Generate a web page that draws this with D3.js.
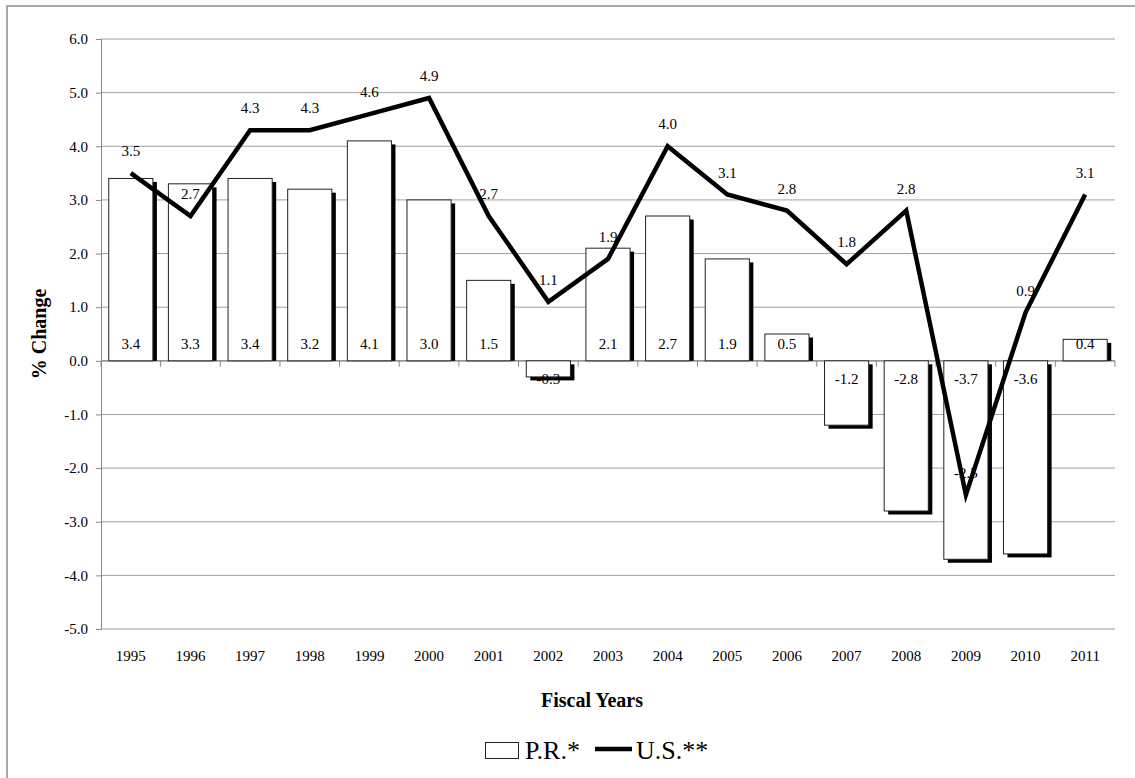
<!DOCTYPE html>
<html>

<head>
    <meta charset="utf-8">
    <title>% Change P.R. vs U.S.</title>
    <script src="https://d3js.org/d3.v7.min.js"></script>
    <style>
        body {
            margin: 0;
            background: #fff;
        }

        text {
            font-family: "Liberation Serif", "Times New Roman", serif;
            fill: #000;
        }
    </style>
</head>

<body>
    <div id="chart"></div>
    <script>
        // data
        const years = ["1995", "1996", "1997", "1998", "1999", "2000", "2001", "2002", "2003",
            "2004", "2005", "2006", "2007", "2008", "2009", "2010", "2011"]
        const prValues = [3.4, 3.3, 3.4, 3.2, 4.1, 3.0, 1.5, -0.3, 2.1, 2.7, 1.9, 0.5, -1.2, -2.8, -3.7, -3.6, 0.4]
        const usValues = [3.5, 2.7, 4.3, 4.3, 4.6, 4.9, 2.7, 1.1, 1.9, 4.0, 3.1, 2.8, 1.8, 2.8, -2.5, 0.9, 3.1]
        const yTicks = [6, 5, 4, 3, 2, 1, 0, -1, -2, -3, -4, -5]

        const w = 1135
        const h = 778
        const plot = { left: 101, right: 1115, top: 39, bottom: 629 }

        const rows = years.map((y, i) => ({ year: y, pr: prValues[i], us: usValues[i] }))

        const xScale = d3.scaleBand()
            .domain(years)
            .range([plot.left, plot.right])
            .paddingInner(0.26)
            .paddingOuter(0.13)

        const yScale = d3.scaleLinear()
            .domain([-5, 6])
            .range([plot.bottom, plot.top])

        // plain hyphen for negatives, like the original
        const fmt = (v) => d3.format(".1f")(v).replace("\u2212", "-")
        const cx = (d) => xScale(d.year) + xScale.bandwidth() / 2

        const svg = d3.select("#chart")
            .append("svg")
            .attr("width", w)
            .attr("height", h)

        // chart frame (runs off the right and bottom)
        svg.append("rect")
            .attr("x", 7)
            .attr("y", 6)
            .attr("width", w + 50)
            .attr("height", h + 50)
            .attr("fill", "none")
            .attr("stroke", "#8c8c8c")
            .attr("stroke-width", 1.5)

        // gridlines
        svg.append("g")
            .selectAll("line")
            .data(yTicks)
            .enter()
            .append("line")
            .attr("x1", plot.left)
            .attr("x2", plot.right)
            .attr("y1", (d) => yScale(d))
            .attr("y2", (d) => yScale(d))
            .attr("stroke", "#a0a0a0")
            .attr("stroke-width", 1)

        // y axis
        const yAxis = d3.axisLeft(yScale)
            .tickValues(yTicks)
            .tickFormat(fmt)
            .tickSize(5)
            .tickPadding(8)

        const gy = svg.append("g")
            .attr("transform", "translate(" + plot.left + ",0)")
            .call(yAxis)
        gy.select(".domain").attr("stroke", "#888")
        gy.selectAll(".tick line").attr("stroke", "#888")
        gy.selectAll(".tick text")
            .attr("font-size", 15)

        // x axis sits on the zero line, ticks between categories
        svg.append("line")
            .attr("x1", plot.left)
            .attr("x2", plot.right)
            .attr("y1", yScale(0))
            .attr("y2", yScale(0))
            .attr("stroke", "#888")
            .attr("stroke-width", 1.3)

        const step = xScale.step()
        const xEdge = d3.range(years.length + 1).map((i) => plot.left + i * step)
        svg.append("g")
            .selectAll("line")
            .data(xEdge)
            .enter()
            .append("line")
            .attr("x1", (d) => d)
            .attr("x2", (d) => d)
            .attr("y1", yScale(0))
            .attr("y2", yScale(0) + 6)
            .attr("stroke", "#888")

        svg.append("g")
            .selectAll("text")
            .data(years)
            .enter()
            .append("text")
            .attr("x", (d) => xScale(d) + xScale.bandwidth() / 2)
            .attr("y", 661)
            .attr("text-anchor", "middle")
            .attr("font-size", 15)
            .text((d) => d)

        // bar shadows then bars
        const barY = (d) => yScale(Math.max(0, d.pr))
        const barH = (d) => Math.abs(yScale(d.pr) - yScale(0))

        // shadow of a positive bar stops at the zero line
        svg.append("g")
            .selectAll("rect")
            .data(rows)
            .enter()
            .append("rect")
            .attr("x", (d) => xScale(d.year) + 4)
            .attr("y", (d) => barY(d) + 3.5)
            .attr("width", xScale.bandwidth())
            .attr("height", (d) => d.pr >= 0 ? Math.max(0, barH(d) - 3.5) : barH(d))
            .attr("fill", "#000")

        svg.append("g")
            .selectAll("rect")
            .data(rows)
            .enter()
            .append("rect")
            .attr("x", (d) => xScale(d.year))
            .attr("y", barY)
            .attr("width", xScale.bandwidth())
            .attr("height", barH)
            .attr("fill", "#fff")
            .attr("stroke", "#222")
            .attr("stroke-width", 1)

        // bar labels, inside base
        svg.append("g")
            .selectAll("text")
            .data(rows)
            .enter()
            .append("text")
            .attr("x", cx)
            .attr("y", (d) => d.pr >= 0 ? yScale(0) - 12 : yScale(0) + 23)
            .attr("text-anchor", "middle")
            .attr("font-size", 15)
            .text((d) => fmt(d.pr))

        // line labels, above the points
        svg.append("g")
            .selectAll("text")
            .data(rows)
            .enter()
            .append("text")
            .attr("x", cx)
            .attr("y", (d) => yScale(d.us) - 17)
            .attr("text-anchor", "middle")
            .attr("font-size", 15)
            .text((d) => fmt(d.us))

        const line = d3.line()
            .x(cx)
            .y((d) => yScale(d.us))

        svg.append("path")
            .datum(rows)
            .attr("d", line)
            .attr("fill", "none")
            .attr("stroke", "#000")
            .attr("stroke-width", 4.5)
            .attr("stroke-linejoin", "miter")

        // axis titles
        svg.append("text")
            .attr("transform", "translate(46," + ((plot.top + plot.bottom) / 2) + ") rotate(-90)")
            .attr("text-anchor", "middle")
            .attr("font-size", 20)
            .attr("font-weight", "bold")
            .text("% Change")

        svg.append("text")
            .attr("x", 592)
            .attr("y", 707)
            .attr("text-anchor", "middle")
            .attr("font-size", 20)
            .attr("font-weight", "bold")
            .text("Fiscal Years")

        // legend
        const legend = svg.append("g")
        legend.append("rect")
            .attr("x", 485.5)
            .attr("y", 742.5)
            .attr("width", 33)
            .attr("height", 16)
            .attr("fill", "#fff")
            .attr("stroke", "#222")
        legend.append("text")
            .attr("x", 525)
            .attr("y", 759)
            .attr("font-size", 26)
            .text("P.R.*")
        legend.append("line")
            .attr("x1", 595)
            .attr("x2", 632)
            .attr("y1", 749)
            .attr("y2", 749)
            .attr("stroke", "#000")
            .attr("stroke-width", 4.5)
        legend.append("text")
            .attr("x", 636)
            .attr("y", 759)
            .attr("font-size", 26)
            .text("U.S.**")
    </script>
</body>

</html>
